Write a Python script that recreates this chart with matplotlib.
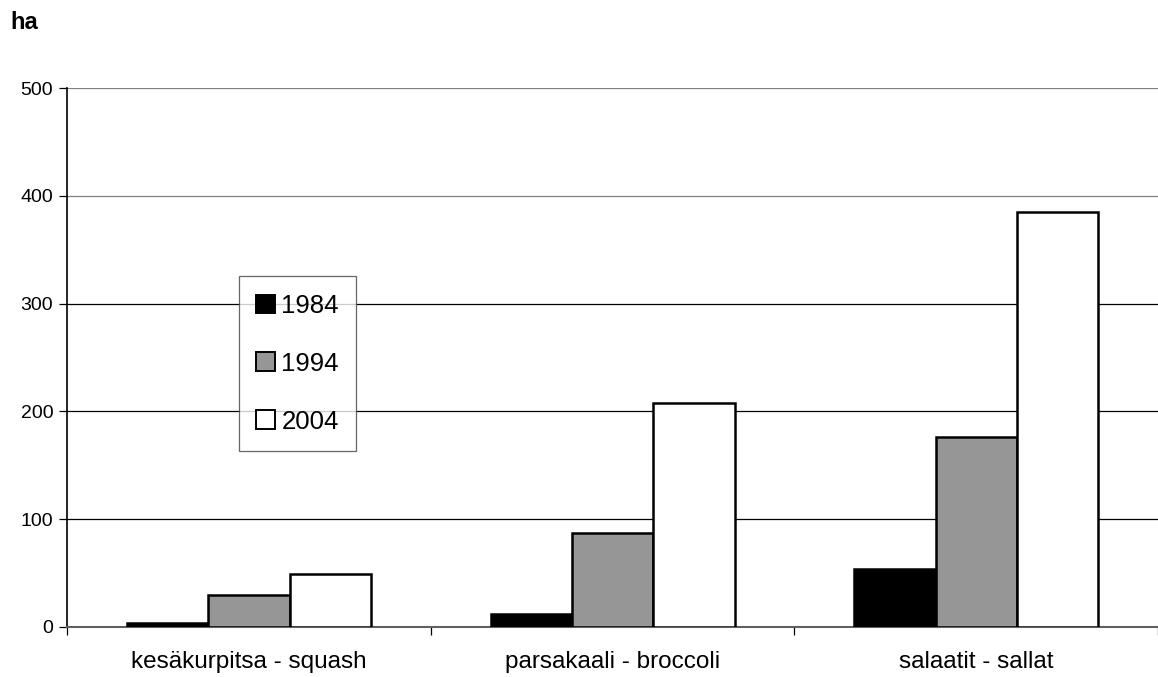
import matplotlib.pyplot as plt
import numpy as np
from matplotlib.patches import Patch

categories = ['kesäkurpitsa - squash', 'parsakaali - broccoli', 'salaatit - sallat']
years = ['1984', '1994', '2004']
v1984 = [4, 12, 54]
v1994 = [30, 87, 176]
v2004 = [49, 208, 385]
colors = ['#000000', '#969696', '#ffffff']

plt.rcParams['font.family'] = ['Liberation Sans', 'DejaVu Sans']

fig = plt.figure(figsize=(11.58, 6.77), dpi=100)
ax = fig.add_axes([0.058, 0.0739, 0.942, 0.796])

x = np.arange(len(categories))
w = 0.2237
for i, (vals, c) in enumerate(zip([v1984, v1994, v2004], colors)):
    ax.bar(x + (i - 1) * w, vals, width=w, color=c, edgecolor='black',
           linewidth=1.8, zorder=3)

ax.set_xlim(-0.5, len(categories) - 0.5)
ax.set_ylim(0, 500)
ax.set_yticks(range(0, 501, 100))
for yv in range(100, 501, 100):
    ax.axhline(yv, color='black' if yv < 400 else '#808080', lw=0.9, zorder=1)

# category boundaries as ticks, labels at centres
ax.set_xticks(np.arange(-0.5, len(categories)), minor=False)
ax.set_xticklabels([])
ax.set_xticks(x, minor=True)
ax.set_xticklabels(categories, minor=True, fontsize=17.5)
ax.tick_params(axis='x', which='minor', length=0, pad=17)
ax.tick_params(axis='x', which='major', length=6, width=0.9, direction='out')
ax.tick_params(axis='y', length=6, width=0.9, labelsize=14, pad=4)

for s in ['top', 'right']:
    ax.spines[s].set_visible(False)
ax.spines['left'].set_linewidth(1.2)
ax.spines['bottom'].set_color('#606060')
ax.spines['bottom'].set_linewidth(1.5)

handles = [Patch(facecolor=c, edgecolor='black', linewidth=1.4) for c in colors]
leg = fig.legend(handles, years, loc='upper left', bbox_to_anchor=(0.206, 0.592),
                 fontsize=18.5, frameon=True, fancybox=False, labelspacing=1.32,
                 handlelength=0.72, handleheight=0.72, handletextpad=0.27,
                 borderpad=0.68, borderaxespad=0)
leg.get_frame().set_edgecolor('#404040')
leg.get_frame().set_linewidth(0.9)

fig.text(0.009, 0.967, 'ha', fontsize=17, fontweight='bold', va='center')

fig.savefig('out.png', dpi=100)
